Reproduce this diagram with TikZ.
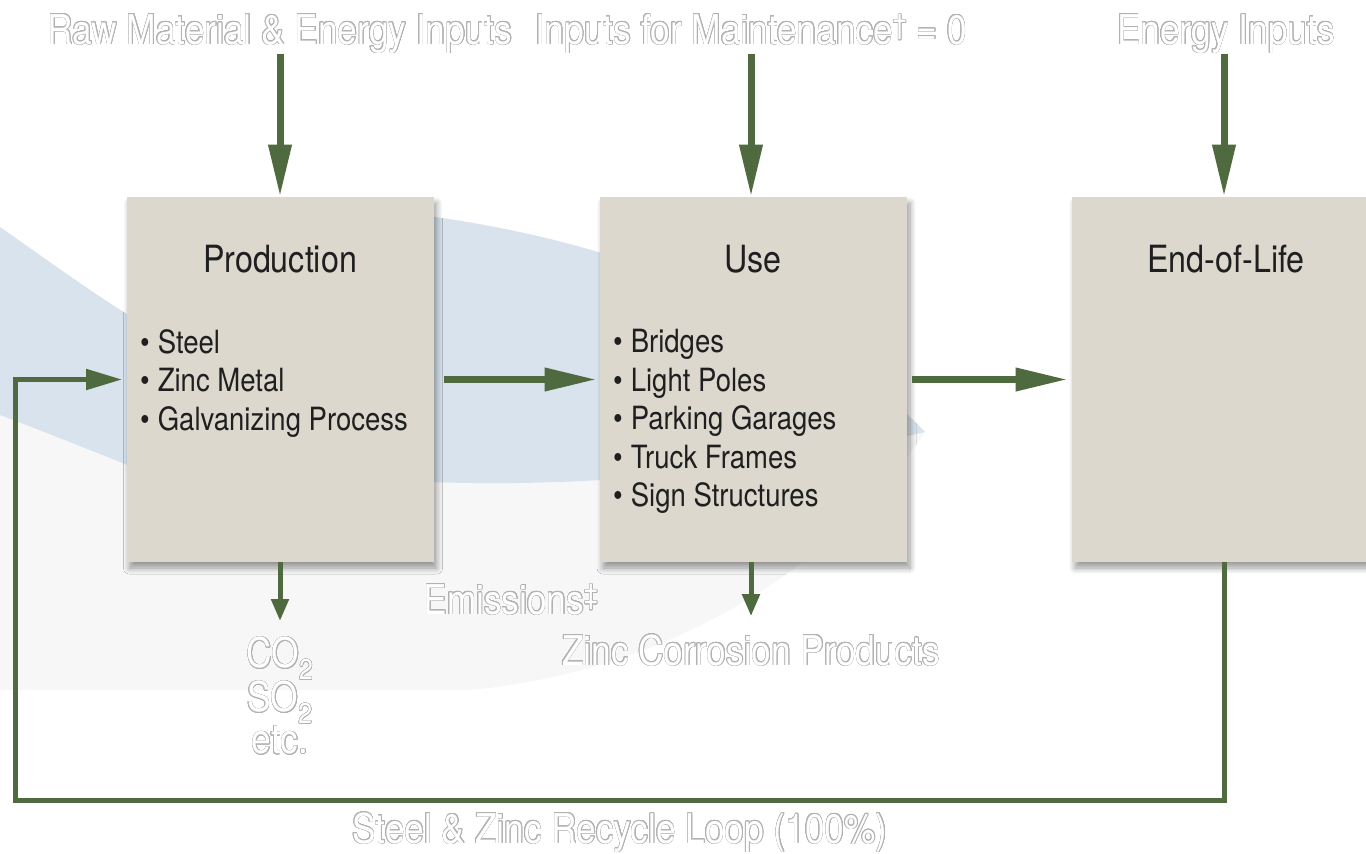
\documentclass[tikz,border=0pt]{standalone}
\usepackage{fontspec}
\setmainfont{TeX Gyre Heros}[FakeStretch=0.86]
\usepackage[copies]{contour}
\contourlength{.55pt}
\contournumber{24}
\usetikzlibrary{arrows.meta,shadows.blur}

\definecolor{flowgreen}{RGB}{78,106,62}
\definecolor{boxfill}{RGB}{220,216,206}
\definecolor{swooshblue}{RGB}{216,227,237}
\definecolor{haloline}{RGB}{178,178,178}

\newcommand{\halo}[1]{\contour{haloline}{#1}}
\newcommand{\itm}[1]{\textbullet\hspace{.25em}#1}

\begin{document}
\begin{tikzpicture}[x=1pt,y=-1pt,line join=miter,
  stage/.style={draw=black!35,line width=.8pt,fill=boxfill,minimum width=307pt,minimum height=365pt,inner sep=0pt,
    blur shadow={draw=none,shadow xshift=3pt,shadow yshift=-6pt,shadow blur steps=10,shadow blur radius=6pt,shadow opacity=40}},
  title/.style={font=\fontsize{37.5}{40}\selectfont,text=black!88,anchor=base,inner sep=0pt},
  items/.style={font=\fontsize{32}{38.5}\selectfont,text=black!88,align=left,anchor=north west,inner sep=0pt},
  ghost/.style={font=\fontsize{41}{42}\selectfont,text=white,inner sep=0pt,anchor=base},
  flow/.style={draw=flowgreen,line width=7pt,-{Triangle[length=52pt,width=22pt]}},
  leak/.style={draw=flowgreen,line width=5pt,-{Triangle[length=22pt,width=17pt]}},
  recycleflow/.style={draw=flowgreen,line width=5pt,-{Triangle[length=36pt,width=20pt]}}]
\useasboundingbox (0,0) rectangle (1366,854);
%% background swoosh
\fill[gray!6] (0,380) -- (0,690) -- (470,690) .. controls (680,670) and (840,560) .. (925,432) -- (430,482) -- cycle;
\fill[swooshblue] (0,227) .. controls (50,262) and (95,295) .. (140,322) -- (420,215)
  .. controls (620,240) and (820,320) .. (925,432)
  .. controls (760,470) and (600,488) .. (430,482) -- (140,470) .. controls (90,450) and (40,430) .. (0,415) -- cycle;
%% stages
\node[stage] (prod) at (280,379.5) {};
\node[stage] (use) at (753.5,379.5) {};
\node[stage,minimum width=304pt] (eol) at (1224,379.5) {};
\node[title] (prodtitle) at (280,272) {Production};
\node[title] (usetitle) at (753,272) {Use};
\node[title] (eoltitle) at (1226,272) {End-of-Life};
\node[items] (proditems) at (140,329) {\itm{Steel}\\\itm{Zinc Metal}\\\itm{Galvanizing Process}};
\node[items] (useitems) at (613,329) {\itm{Bridges}\\\itm{Light Poles}\\\itm{Parking Garages}\\\itm{Truck Frames}\\\itm{Sign Structures}};
%% inputs
\node[ghost] (rawin) at (280,44) {\halo{Raw Material \& Energy Inputs}};
\node[ghost] (maintin) at (751,44) {\halo{Inputs for Maintenance\textsuperscript{\textdagger} = 0}};
\node[ghost] (energyin) at (1226,44) {\halo{Energy Inputs}};
\draw[flow] (rawin.south) -- (rawin.south |- prod.north);
\draw[flow] (maintin.south) -- (maintin.south |- use.north);
\draw[flow] (energyin.south -| eol) -- (eol.north);
\draw[flow,shorten <=10pt,shorten >=3pt] (prod) -- (use);
\draw[flow,shorten <=5pt,shorten >=4pt] (use) -- (eol);
%% outputs
\node[ghost] (emis) at (511,614) {\halo{Emissions\textsuperscript{\textdaggerdbl}}};
\node[ghost,align=center,anchor=north] (gases) at (280,637) {\halo{CO\textsubscript{2}}\\\halo{SO\textsubscript{2}}\\\halo{etc.}};
\node[ghost] (zincout) at (751,665) {\halo{Zinc Corrosion Products}};
\draw[leak,shorten >=16pt] (prod.south) -- (gases.north);
\draw[leak,shorten >=18pt] (zincout |- use.south) -- (zincout.north);
%% recycle loop
\node[ghost] (recycle) at (620,843) {\halo{Steel \& Zinc Recycle Loop (100\%)}};
\coordinate (loopR) at (1224,800);
\coordinate (loopL) at (15,800);
\draw[recycleflow,shorten >=4pt] (eol.south) -- (loopR) -- (loopL) |- (prod.west);
\end{tikzpicture}
\end{document}
